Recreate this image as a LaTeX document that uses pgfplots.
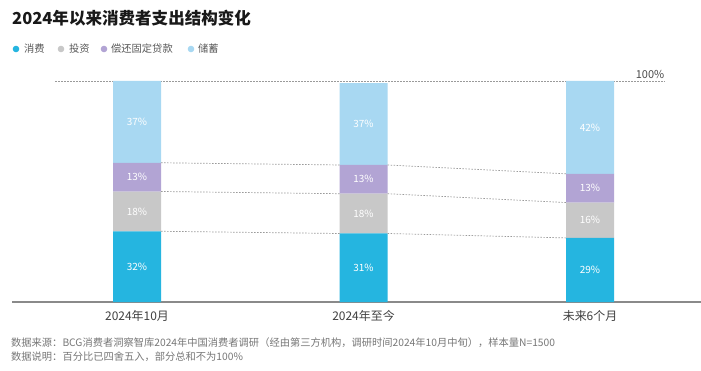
\documentclass[border=0pt]{standalone}
\usepackage{pgfplots}
\pgfplotsset{compat=1.18}
\usepackage{fontspec}
\setmainfont{Noto Sans CJK SC}
\definecolor{cXF}{HTML}{25B5E0}
\definecolor{cTZ}{HTML}{C8C8C8}
\definecolor{cDK}{HTML}{B2A4D4}
\definecolor{cCX}{HTML}{A8D8F2}
\definecolor{cLine}{HTML}{9A9A9A}
\definecolor{cBase}{HTML}{8A8A8A}
\definecolor{cFoot}{HTML}{777777}
\pgfplotsset{
  base/.style={
    at={(12bp,68bp)}, anchor=south west,
    scale only axis, width=689bp, height=221bp,
    xmin=-0.5519, xmax=2.490, ymin=0, ymax=100,
    clip=false,
    /pgf/number format/assume math mode=true,
  },
  hidden/.style={base, hide axis},
  dots/.style={cLine, line width=0.7bp, dash pattern=on 1.5bp off 1.5bp, mark=none},
}
\begin{document}
\begin{tikzpicture}[x=1bp,y=1bp]
\path[use as bounding box, fill=white] (0,0) rectangle (701,370);
% background lines (100% line)
\begin{axis}[hidden]
\addplot[dots] coordinates {(-0.362,100) (2.33,100)};
\end{axis}
% bars
\begin{axis}[base,
  ybar stacked, bar width=48bp,
  hide y axis, axis x line*=bottom,
  x axis line style={cBase, line width=1.1bp},
  xtick={0,1,2}, xticklabels={2024年10月,2024年至今,未来6个月},
  major tick length=0pt,
  xticklabel style={font=\fontsize{12}{14}\selectfont, text=black!75, yshift=-5bp},
]
\addplot[fill=cXF, draw=none] coordinates {(0,32) (1,31) (2,29)};
\addplot[fill=cTZ, draw=none] coordinates {(0,18) (1,18) (2,16)};
\addplot[fill=cDK, draw=none] coordinates {(0,13) (1,13) (2,13)};
\addplot[fill=cCX, draw=none] coordinates {(0,37) (1,37) (2,42)};
\end{axis}
% connectors and labels
\begin{axis}[hidden]
\addplot[dots] coordinates {(0.106,32) (0.894,31)};
\addplot[dots] coordinates {(0.106,50) (0.894,49)};
\addplot[dots] coordinates {(0.106,63) (0.894,62)};
\addplot[dots] coordinates {(1.106,31) (1.894,29)};
\addplot[dots] coordinates {(1.106,49) (1.894,45)};
\addplot[dots] coordinates {(1.106,62) (1.894,58)};
\addplot[draw=none, mark=none, nodes near coords, point meta=explicit symbolic,
  every node near coord/.append style={anchor=center, text=white, font=\fontsize{10}{12}\selectfont}]
  coordinates {
  (0,16) [32\%] (0,41) [18\%] (0,56.5) [13\%] (0,81.5) [37\%]
  (1,15.5) [31\%] (1,40) [18\%] (1,55.5) [13\%] (1,80.5) [37\%]
  (2,14.5) [29\%] (2,37) [16\%] (2,51.5) [13\%] (2,79) [42\%]
  };
\end{axis}
% 100% label
\node[font=\fontsize{11}{13}\selectfont, text=black!70] at (650,296) {100\%};
% title
\node[anchor=west, font=\fontsize{16.6}{19}\selectfont\bfseries, text=black!90, inner sep=0] at (12,352) {2024年以来消费者支出结构变化};
% legend
\begin{scope}[font=\fontsize{10.3}{12}\selectfont, text=black!65]
\fill[cXF] (16,321) circle (3.3);
\node[anchor=west, inner sep=0] at (24,321) {消费};
\fill[cTZ] (61,321) circle (3.3);
\node[anchor=west, inner sep=0] at (69,321) {投资};
\fill[cDK] (104,321) circle (3.3);
\node[anchor=west, inner sep=0] at (111,321) {偿还固定贷款};
\fill[cCX] (191,321) circle (3.3);
\node[anchor=west, inner sep=0] at (198,321) {储蓄};
\end{scope}
% footer
\begin{scope}[font=\fontsize{10.3}{12}\selectfont, text=cFoot]
\node[anchor=west, inner sep=0] at (11,27) {数据来源：BCG消费者洞察智库2024年中国消费者调研（经由第三方机构，调研时间2024年10月中旬），样本量N=1500};
\node[anchor=west, inner sep=0] at (11,13) {数据说明：百分比已四舍五入，部分总和不为100\%};
\end{scope}
\end{tikzpicture}
\end{document}
